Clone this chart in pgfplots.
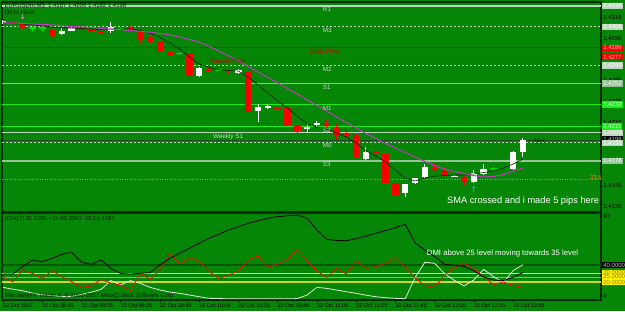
\documentclass[border=0pt]{standalone}
\usepackage{pgfplots}
\pgfplotsset{compat=1.18}
\usepackage{pgfplotstable}
\usepackage{fontspec}
\setmainfont{Liberation Sans}
\newfontfamily\dejavu{DejaVu Sans}

\definecolor{bg}{RGB}{6,134,6}
\definecolor{frame}{RGB}{0,45,0}
\definecolor{lvl}{RGB}{190,214,190}
\definecolor{lvlS}{RGB}{150,196,150}
\definecolor{mlime}{RGB}{30,235,30}
\definecolor{cred}{RGB}{250,0,0}
\definecolor{doji}{RGB}{0,225,0}
\definecolor{purp}{RGB}{190,60,190}
\definecolor{lbl}{RGB}{200,214,200}
\definecolor{darktxt}{RGB}{10,30,10}
\definecolor{fib}{RGB}{170,170,0}
\definecolor{l30}{RGB}{205,232,120}
\definecolor{l25}{RGB}{170,190,0}
\definecolor{l20}{RGB}{205,215,40}
\definecolor{pdi}{RGB}{225,235,225}
\definecolor{mdi}{RGB}{225,20,0}

\pgfplotstableread{
i O H L C
1 1.43107 1.43117 1.43088 1.43095
2 1.43088 1.43098 1.43031 1.43047
5 1.43031 1.43040 1.42964 1.42983
8 1.43057 1.43064 1.43021 1.43031
9 1.43038 1.43045 1.43012 1.43021
10 1.43024 1.43031 1.42993 1.43002
13 1.43062 1.43069 1.43031 1.43038
14 1.43015 1.43031 1.42907 1.42942
15 1.42961 1.42974 1.42907 1.42916
16 1.42919 1.42926 1.42830 1.42833
17 1.42824 1.42830 1.42776 1.42792
19 1.42808 1.42816 1.42596 1.42601
21 1.42655 1.42668 1.42630 1.42642
23 1.42649 1.42654 1.42620 1.42627
25 1.42633 1.42639 1.42248 1.42251
28 1.42295 1.42315 1.42267 1.42276
29 1.42283 1.42310 1.42114 1.42124
30 1.42114 1.42124 1.42028 1.42069
33 1.42140 1.42171 1.42104 1.42114
34 1.42092 1.42140 1.41980 1.42028
35 1.42044 1.42057 1.42009 1.42019
36 1.42028 1.42038 1.41808 1.41815
38 1.41866 1.41870 1.41789 1.41856
39 1.41844 1.41851 1.41496 1.41567
40 1.41567 1.41570 1.41343 1.41455
44 1.41716 1.41758 1.41684 1.41694
45 1.41684 1.41710 1.41636 1.41646
47 1.41630 1.41636 1.41550 1.41582
51 1.41703 1.41713 1.41684 1.41694
}\redc

\pgfplotstableread{
i O H L C
0 1.43095 1.43126 1.43088 1.43117
6 1.42990 1.43047 1.42983 1.43018
7 1.43024 1.43059 1.43017 1.43053
11 1.43021 1.43110 1.42999 1.43057
20 1.42592 1.42680 1.42579 1.42665
24 1.42617 1.42654 1.42611 1.42649
26 1.42260 1.42324 1.42155 1.42298
27 1.42283 1.42321 1.42276 1.42305
31 1.42082 1.42133 1.42047 1.42107
32 1.42121 1.42165 1.42114 1.42146
37 1.41799 1.41916 1.41789 1.41869
41 1.41471 1.41560 1.41433 1.41557
42 1.41567 1.41622 1.41560 1.41615
43 1.41624 1.41751 1.41617 1.41725
46 1.41636 1.41651 1.41627 1.41641
48 1.41576 1.41694 1.41567 1.41668
49 1.41656 1.41748 1.41646 1.41700
52 1.41700 1.41875 1.41694 1.41863
53 1.41869 1.41996 1.41821 1.41980
}\whitec

\pgfplotstableread{
i O H L
3 1.43050 1.43069 1.43012
4 1.43050 1.43059 1.43012
12 1.43047 1.43059 1.43036
18 1.42808 1.42821 1.42792
22 1.42649 1.42658 1.42639
50 1.41710 1.41725 1.41687
}\dojic

\pgfplotstableread{
i f s
0 1.43107 1.43101
1 1.43098 1.43098
2 1.43088 1.43093
3 1.43079 1.43088
4 1.43069 1.43083
5 1.43059 1.43079
6 1.43050 1.43071
7 1.43050 1.43064
8 1.43045 1.43059
9 1.43040 1.43055
10 1.43036 1.43045
11 1.43040 1.43040
12 1.43040 1.43034
13 1.43040 1.43026
14 1.43026 1.43018
15 1.43002 1.43009
16 1.42959 1.42997
17 1.42907 1.42983
18 1.42849 1.42964
19 1.42773 1.42940
20 1.42706 1.42916
21 1.42673 1.42873
22 1.42649 1.42830
23 1.42644 1.42783
24 1.42639 1.42735
25 1.42582 1.42682
26 1.42505 1.42630
27 1.42429 1.42577
28 1.42353 1.42525
29 1.42286 1.42472
30 1.42209 1.42420
31 1.42133 1.42362
32 1.42104 1.42310
33 1.42085 1.42257
34 1.42047 1.42200
35 1.42009 1.42147
36 1.41952 1.42095
37 1.41878 1.42042
38 1.41828 1.41995
39 1.41770 1.41947
40 1.41694 1.41904
41 1.41617 1.41861
42 1.41589 1.41818
43 1.41617 1.41775
44 1.41636 1.41737
45 1.41641 1.41703
46 1.41646 1.41680
47 1.41646 1.41660
48 1.41656 1.41641
49 1.41670 1.41627
50 1.41684 1.41632
51 1.41713 1.41651
52 1.41751 1.41684
53 1.41799 1.41713
}\mac

\pgfplotstableread{
i adx pdi mdi
0 29.4 13.7 25.5
1 29.4 11.5 20.4
2 38.0 9.8 33.3
3 45.9 7.0 30.2
4 43.9 5.0 24.3
5 47.8 4.0 33.3
6 52.5 3.0 26.3
7 54.9 3.0 20.4
8 43.2 5.5 13.7
9 40.8 8.0 15.3
10 45.9 11.4 23.1
11 36.1 21.6 18.4
12 30.0 16.5 16.5
13 29.4 21.6 9.8
14 30.2 18.4 30.2
15 31.0 13.7 23.1
16 40.0 10.6 34.1
17 47.8 8.2 53.7
18 53.7 6.7 41.2
19 59.6 4.7 49.0
20 65.5 2.7 43.9
21 71.4 0.8 32.2
22 76.1 0.5 24.3
23 81.2 0.3 28.2
24 85.0 0.3 33.3
25 89.0 0.2 45.9
26 92.0 0.2 50.6
27 95.0 0.2 37.3
28 96.8 0.2 41.2
29 98.0 0.2 46.7
30 98.8 0.5 57.6
31 95.0 4.7 45.0
32 81.2 13.7 33.0
33 70.2 12.5 25.5
34 68.8 10.6 36.1
35 68.6 8.5 29.4
36 71.0 6.7 44.7
37 74.0 4.5 36.1
38 77.3 2.7 38.0
39 80.5 1.5 42.0
40 84.0 0.8 47.8
41 87.9 0.3 37.0
42 66.2 25.0 25.0
43 57.6 43.2 16.0
44 50.0 42.0 13.7
45 41.0 30.0 28.0
46 39.5 22.0 37.0
47 38.5 15.3 42.0
48 33.0 22.4 36.1
49 26.0 34.9 26.0
50 22.3 26.3 17.0
51 21.6 19.2 20.0
52 25.5 33.3 16.0
53 31.2 40.4 13.5
}\adxt

\tikzset{
  f6/.style={font=\fontsize{6}{7}\selectfont},
  rt/.style={anchor=west, xshift=1.2bp, inner xsep=1bp, inner ysep=0.9bp, text height=4.3bp, text depth=0.3bp, font=\fontsize{6}{7}\selectfont},
  bx/.style 2 args={rt, fill=#1, text=#2},
  lv/.style={anchor=north west, inner sep=0pt, yshift=-1.2bp, font=\fontsize{6.3}{7}\selectfont, text=lbl},
}
\pgfplotsset{
  ebar/.style={draw=none, mark=none, forget plot,
    error bars/.cd, y dir=plus, y explicit, error mark=none,
    error bar style={#1}},
}

\begin{document}
\begin{tikzpicture}[x=1bp,y=1bp]
\useasboundingbox (0,0) rectangle (625,311);
\fill[bg] (0,0) rectangle (625,311);

% ---------------- price panel ----------------
\begin{axis}[
  at={(2bp,99bp)}, anchor=south west, scale only axis,
  width=599bp, height=210bp,
  xmin=-0.1, xmax=60.96, ymin=1.41293, ymax=1.43298,
  axis line style={draw=frame, line width=1.2bp},
  xtick=\empty, ytick=\empty,
  clip mode=individual,
]
% level lines
\addplot[lvl, line width=1.2bp] coordinates {(-0.1,1.4326) (60.96,1.4326)};
\addplot[lvl, line width=0.9bp, dash pattern=on 2bp off 2bp] coordinates {(-0.1,1.4306) (60.96,1.4306)};
\addplot[cred!85!black, line width=0.9bp] coordinates {(-0.1,1.4286) (60.96,1.4286)};
\addplot[cred, line width=1.3bp] coordinates {(-0.1,1.4277) (60.96,1.4277)};
\addplot[lvl, line width=0.9bp, dash pattern=on 2bp off 2bp] coordinates {(-0.1,1.4269) (60.96,1.4269)};
\addplot[lvlS, line width=1.8bp] coordinates {(-0.1,1.4252) (60.96,1.4252)};
\addplot[mlime, line width=1.3bp] coordinates {(-0.1,1.4232) (60.96,1.4232)};
\addplot[mlime, line width=1.3bp] coordinates {(-0.1,1.4211) (60.96,1.4211)};
\addplot[lvl, line width=1bp] coordinates {(-0.1,1.4205) (60.96,1.4205)};
\addplot[black!80!green, line width=0.7bp, dash pattern=on 1bp off 1bp] coordinates {(-0.1,1.4198) (60.96,1.4198)};
\addplot[lvl, line width=0.9bp, dash pattern=on 2bp off 2bp] coordinates {(-0.1,1.4196) (60.96,1.4196)};
\addplot[lvlS, line width=2bp] coordinates {(-0.1,1.4178) (60.96,1.4178)};
\addplot[fib, line width=0.9bp, dash pattern=on 1bp off 1.5bp] coordinates {(-0.1,1.4160) (60.96,1.4160)};

% red candles: wicks and bodies
\addplot[ebar={line width=1bp, draw=cred}]
  table[x=i, y=L, y error plus expr=\thisrow{H}-\thisrow{L}] {\redc};
\addplot[ebar={line width=6.5bp, draw=cred}]
  table[x=i, y=C, y error plus expr=\thisrow{O}-\thisrow{C}] {\redc};
% white candles
\addplot[ebar={line width=1bp, draw=white}]
  table[x=i, y=L, y error plus expr=\thisrow{H}-\thisrow{L}] {\whitec};
\addplot[ebar={line width=6.5bp, draw=white}]
  table[x=i, y=O, y error plus expr=\thisrow{C}-\thisrow{O}] {\whitec};
% doji
\addplot[ebar={line width=1bp, draw=doji}]
  table[x=i, y=L, y error plus expr=\thisrow{H}-\thisrow{L}] {\dojic};
\addplot[only marks, mark=-, mark size=3.3bp, mark options={draw=doji, line width=1.2bp}]
  table[x=i, y=O] {\dojic};

% moving averages
\addplot[black!85!green, line width=0.6bp] table[x=i, y=f] {\mac};
\addplot[purp, line width=1bp] table[x=i, y=s] {\mac};

% arrows
\addplot[only marks, mark=text, text mark={\dejavu ↓}, text mark as node=true,
  text mark style={font=\dejavu\fontsize{8}{8}\selectfont, text=purp!50!white}]
  coordinates {(2,1.43155)};
\addplot[only marks, mark=text, text mark={\dejavu ↑}, text mark as node=true,
  text mark style={font=\dejavu\fontsize{8}{8}\selectfont, text=cyan!80!white}]
  coordinates {(48,1.41503)};

% texts
\node[anchor=west, inner sep=0pt, f6, text=darktxt] at (axis cs:0.15,1.43262) {EURUSDm,M5\ \ 1.4187 1.4200 1.4182 1.4198};
\node[anchor=west, inner sep=0pt, f6, text=darktxt] at (axis cs:0.15,1.43198) {Ok to close};
\node[lv] at (axis cs:32.6,1.4326) {R1};
\node[lv] at (axis cs:32.6,1.4306) {M3};
\node[lv, text=cred!80!black] at (axis cs:31.3,1.4286) {Daily Pivot};
\node[lv, text=cred!80!black] at (axis cs:21.1,1.4277) {Weekly Pivot};
\node[lv] at (axis cs:32.6,1.4269) {M2};
\node[lv] at (axis cs:32.6,1.4252) {S1};
\node[lv] at (axis cs:32.6,1.4232) {M1};
\node[lv] at (axis cs:32.6,1.4211) {S2};
\node[lv] at (axis cs:21.4,1.4205) {Weekly S1};
\node[lv] at (axis cs:32.6,1.4196) {M0};
\node[lv] at (axis cs:32.6,1.4178) {S3};
\node[anchor=west, inner sep=0pt, f6, text=darktxt] at (axis cs:54.03,1.41976) {40.4};
\node[anchor=south west, inner sep=0.3bp, f6, text=orange] at (axis cs:59.8,1.4160) {23.6};
\node[anchor=west, inner sep=0pt, font=\fontsize{9.3}{10}\selectfont, text=white] at (axis cs:45.26,1.41398) {SMA crossed and i made 5 pips here};

% right price scale
\pgfplotsinvokeforeach{1.4315,1.4295,1.4255,1.4235,1.4215,1.4155,1.4135}{
  \node[rt, text=black] at (axis cs:60.96,#1) {#1};
}
\node[bx={lvl}{white}] at (axis cs:60.96,1.4326) {1.4326};
\node[bx={lvl}{white}] at (axis cs:60.96,1.4306) {1.4306};
\node[bx={cred}{red!30!white}] at (axis cs:60.96,1.4286) {1.4286};
\node[bx={cred}{red!30!white}] at (axis cs:60.96,1.4277) {1.4277};
\node[bx={lvl}{white}] at (axis cs:60.96,1.4269) {1.4269};
\node[bx={lvlS}{white}] at (axis cs:60.96,1.4252) {1.4252};
\node[bx={mlime}{green!20!white}] at (axis cs:60.96,1.4232) {1.4232};
\node[bx={mlime}{green!20!white}] at (axis cs:60.96,1.4211) {1.4211};
\node[bx={lvl}{white}] at (axis cs:60.96,1.4205) {1.4205};
\node[bx={black}{lightgray}] at (axis cs:60.96,1.41985) {1.4198};
\node[bx={lvl}{white}] at (axis cs:60.96,1.4195) {1.4196};
\node[bx={lvlS}{white}] at (axis cs:60.96,1.4178) {1.4178};
\end{axis}

% ---------------- ADX panel ----------------
\begin{axis}[
  at={(2bp,11bp)}, anchor=south west, scale only axis,
  width=599bp, height=87bp,
  xmin=-0.1, xmax=60.96, ymin=-1.18, ymax=101.18,
  axis line style={draw=frame, line width=1.2bp},
  ytick=\empty,
  xtick={0,4,...,52},
  xticklabels={22 Oct 2007,22 Oct 08:45,22 Oct 09:05,22 Oct 09:25,22 Oct 09:45,22 Oct 10:05,22 Oct 10:25,22 Oct 10:45,22 Oct 11:05,22 Oct 11:25,22 Oct 11:45,22 Oct 12:05,22 Oct 12:25,22 Oct 12:45},
  xticklabel style={anchor=north west, font=\fontsize{5.5}{6}\selectfont, text=black, inner sep=0pt, yshift=-1.8bp},
  xtick pos=bottom, tick align=outside, major tick length=2bp,
  tick style={draw=black, line width=0.6bp},
  clip mode=individual,
]
\addplot[frame!80!green, line width=1.8bp] coordinates {(-0.1,40) (60.96,40)};
\addplot[l30, line width=1.3bp] coordinates {(-0.1,30) (60.96,30)};
\addplot[l25, line width=1.3bp] coordinates {(-0.1,25) (60.96,25)};
\addplot[l20, line width=1.3bp] coordinates {(-0.1,20) (60.96,20)};

\addplot[pdi, line width=0.8bp] table[x=i, y=pdi] {\adxt};
\addplot[mdi, line width=0.8bp] table[x=i, y=mdi] {\adxt};
\addplot[black, line width=0.8bp] table[x=i, y=adx] {\adxt};

\node[anchor=west, inner sep=0pt, f6, text=darktxt] at (axis cs:0.15,94.1) {ADX(7) 31.2381 +DI:40.3561 -DI:13.4787};
\node[anchor=west, inner sep=0pt, font=\fontsize{7.75}{9}\selectfont, text=white] at (axis cs:43.2,54.1) {DMI above 25 level moving towards 35 level};
\node[anchor=west, inner sep=0pt, f6, text=darktxt] at (axis cs:0.15,3.5) {InterbankFX Trader 4, © 2001-2007 MetaQuotes Software Corp.};

\node[rt, text=black] at (axis cs:60.96,96.5) {97};
\node[rt, text=black] at (axis cs:60.96,2.4) {0};
\node[bx={black}{lightgray}] at (axis cs:60.96,40) {40.0000};
\node[bx={yellow}{olive}] at (axis cs:60.96,30.6) {30.0000};
\node[bx={yellow}{olive}] at (axis cs:60.96,25.9) {25.0000};
\node[bx={yellow}{olive}] at (axis cs:60.96,20) {20.0000};
\end{axis}
\end{tikzpicture}
\end{document}
